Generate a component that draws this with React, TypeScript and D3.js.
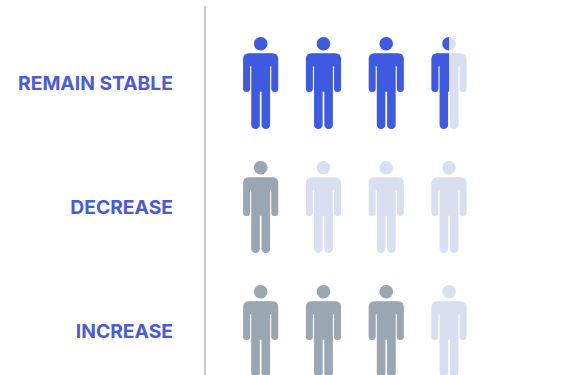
import React from "react";
import * as d3 from "d3";

const categories = ["REMAIN STABLE", "DECREASE", "INCREASE"];
const filledCounts = [3.5, 1, 3];
const iconSlots = [0, 1, 2, 3];
const filledColors = ["#3d5ae0", "#9aa7b3", "#9aa7b3"];
const emptyColor = "#d9def0";
const labelColor = "#4a5ad9";
const ruleColor = "#b5b7bb";

const WIDTH = 565;
const HEIGHT = 375;

const xScale = d3.scaleLinear().domain([0, 3]).range([260.7, 449]);
const yScale = d3.scaleLinear().domain([0, 2]).range([43.7, 291.7]);

// Figure outline, relative to the centre of the head.
function bodyPath(): string {
  const p = d3.path();
  const r = 3.5;
  const top = 9.6;
  const armOut = 17.6;
  const armIn = 10.6;
  const armEnd = 48.4;
  const legEnd = 85.3;
  const legGap = 0.9;
  const legOut = 9.4;
  const legR = (legOut - legGap) / 2;
  const shoulder = 6;
  p.moveTo(-armOut + shoulder, top);
  p.lineTo(armOut - shoulder, top);
  p.quadraticCurveTo(armOut, top, armOut, top + shoulder);
  p.lineTo(armOut, armEnd - r);
  p.arc(armOut - r, armEnd - r, r, 0, Math.PI);
  p.lineTo(armIn, top + 13);
  p.lineTo(legOut, top + 13);
  p.lineTo(legOut, legEnd - legR);
  p.arc((legOut + legGap) / 2, legEnd - legR, legR, 0, Math.PI);
  p.lineTo(legGap, 48);
  p.lineTo(-legGap, 48);
  p.lineTo(-legGap, legEnd - legR);
  p.arc(-(legOut + legGap) / 2, legEnd - legR, legR, 0, Math.PI);
  p.lineTo(-legOut, top + 13);
  p.lineTo(-armIn, top + 13);
  p.lineTo(-armIn, armEnd - r);
  p.arc(-armOut + r, armEnd - r, r, 0, Math.PI);
  p.lineTo(-armOut, top + shoulder);
  p.quadraticCurveTo(-armOut, top, -armOut + shoulder, top);
  p.closePath();
  p.moveTo(6.8, 0);
  p.arc(0, 0, 6.8, 0, Math.PI * 2);
  p.closePath();
  return p.toString();
}

const personPath = bodyPath();

export default function App() {
  return (
    <svg
      width={WIDTH}
      height={HEIGHT}
      viewBox={`0 0 ${WIDTH} ${HEIGHT}`}
      style={{ position: "absolute", left: 0, top: 0, background: "#fff" }}
    >
      <line x1={205} x2={205} y1={6} y2={HEIGHT} stroke={ruleColor} strokeWidth={1.5} />
      {categories.map((category, row) => (
        <g key={category}>
          <text
            x={173}
            y={yScale(row) + 46.3}
            textAnchor="end"
            fontFamily="Inter, sans-serif"
            fontWeight={700}
            fontSize={19.3}
            fill={labelColor}
          >
            {category}
          </text>
          {iconSlots.map((slot) => {
            const cx = xScale(slot);
            const cy = yScale(row);
            const share = Math.max(0, Math.min(1, filledCounts[row] - slot));
            const clipId = `fill-${row}-${slot}`;
            const left = cx - 18;
            return (
              <g key={slot}>
                <clipPath id={clipId}>
                  <rect x={left} y={cy - 8} width={36 * share} height={100} />
                </clipPath>
                <path d={personPath} transform={`translate(${cx},${cy})`} fill={emptyColor} />
                {share > 0 && (
                  <g clipPath={`url(#${clipId})`}>
                    <path
                      d={personPath}
                      transform={`translate(${cx},${cy})`}
                      fill={filledColors[row]}
                    />
                  </g>
                )}
              </g>
            );
          })}
        </g>
      ))}
    </svg>
  );
}
